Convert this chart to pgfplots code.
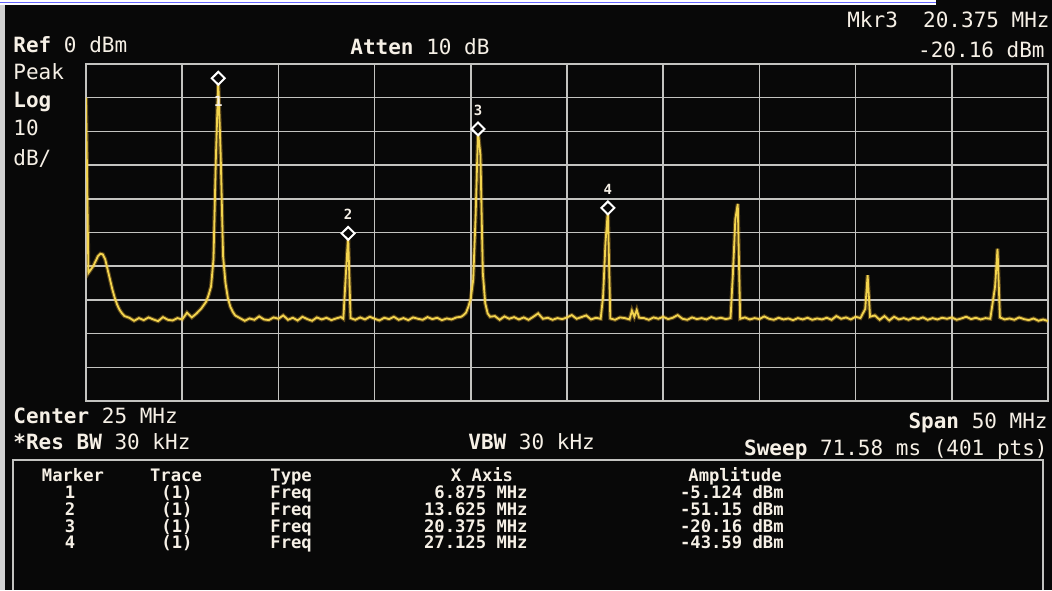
\documentclass[border=0pt]{standalone}
\usepackage{pgfplots}
\pgfplotsset{compat=1.18}
\usepackage{pgfplotstable}
\usepackage{fontspec}
\setmainfont{DejaVu Sans Mono}
\definecolor{scr}{RGB}{8,8,8}
\definecolor{gridc}{RGB}{195,195,192}
\definecolor{trace}{RGB}{242,212,78}
\definecolor{txt}{RGB}{246,240,230}
\newcommand\bigf{\fontsize{10.5}{12}\selectfont}
\newcommand\tabf{\fontsize{8.6}{10}\selectfont\bfseries}

\pgfplotstableread{
f a
0 -10
0.125 -62
0.25 -61
0.375 -60
0.5 -58.5
0.625 -57
0.75 -56.3
0.875 -56.5
1.0 -58
1.125 -61
1.25 -64
1.375 -67
1.5 -69.5
1.625 -71.5
1.75 -73
1.875 -74
2.0 -74.8
2.25 -75.3
2.5 -76.2
2.75 -75.4
3.0 -76.0
3.25 -75.2
3.5 -75.8
3.75 -76.3
4.0 -75.1
4.25 -75.9
4.5 -76.1
4.75 -75.4
5.0 -75.8
5.25 -73.8
5.5 -75.2
5.75 -74.0
6.0 -72.5
6.25 -70.5
6.375 -68.5
6.5 -66
6.625 -58
6.75 -28
6.875 -5.124
7.0 -27
7.125 -57
7.25 -65
7.375 -69.5
7.5 -72
7.625 -73.5
7.75 -74.6
8.0 -75.4
8.25 -76.2
8.5 -75.5
8.75 -75.9
9.0 -74.9
9.25 -75.8
9.5 -76.0
9.75 -75.2
10.0 -75.6
10.25 -74.6
10.5 -75.9
10.75 -75.3
11.0 -76.1
11.25 -75.0
11.5 -75.7
11.75 -76.2
12.0 -75.2
12.25 -75.8
12.5 -75.3
12.75 -76.0
13.0 -75.5
13.25 -75.1
13.375 -75.6
13.5 -63
13.625 -51.15
13.75 -75.4
14.0 -75.9
14.25 -75.2
14.5 -75.8
14.75 -75.0
15.0 -75.6
15.25 -76.1
15.5 -75.3
15.75 -75.7
16.0 -75.0
16.25 -75.9
16.5 -75.4
16.75 -76.0
17.0 -75.2
17.25 -75.6
17.5 -75.9
17.75 -75.1
18.0 -75.7
18.25 -75.3
18.5 -76.0
18.75 -75.5
19.0 -75.8
19.25 -75.2
19.5 -75.0
19.625 -74.5
19.75 -73.8
19.875 -72.0
20.0 -69.5
20.125 -64
20.25 -45
20.375 -20.16
20.5 -27
20.625 -62
20.75 -71
20.875 -74
21.0 -75.0
21.25 -74.8
21.5 -75.9
21.75 -74.9
22.0 -75.6
22.25 -75.1
22.5 -75.8
22.75 -75.2
23.0 -75.9
23.25 -75.0
23.5 -74.0
23.75 -75.6
24.0 -75.3
24.25 -75.9
24.5 -75.4
24.75 -75.7
25.0 -75.2
25.25 -74.5
25.5 -75.6
25.75 -75.1
26.0 -74.6
26.25 -75.8
26.5 -75.3
26.75 -75.6
26.875 -69
27.0 -53
27.125 -43.59
27.25 -75.5
27.5 -75.9
27.75 -75.2
28.0 -75.4
28.25 -75.8
28.375 -73.2
28.5 -75.0
28.625 -73.0
28.75 -75.3
29.0 -75.4
29.25 -75.9
29.5 -75.2
29.75 -75.6
30.0 -75.0
30.25 -75.7
30.5 -75.3
30.75 -74.5
31.0 -75.6
31.25 -75.9
31.5 -75.2
31.75 -75.7
32.0 -75.4
32.25 -75.8
32.5 -75.1
32.75 -75.6
33.0 -75.3
33.25 -75.7
33.5 -75.4
33.625 -62
33.75 -46
33.875 -41.5
34.0 -75.6
34.25 -75.2
34.5 -75.8
34.75 -75.4
35.0 -75.7
35.25 -74.9
35.5 -75.6
35.75 -75.9
36.0 -75.3
36.25 -75.8
36.5 -75.5
36.75 -76.0
37.0 -75.4
37.25 -75.8
37.5 -75.3
37.75 -75.9
38.0 -75.5
38.25 -75.8
38.5 -75.3
38.75 -75.9
39.0 -74.8
39.25 -75.6
39.5 -75.2
39.75 -75.8
40.0 -75.0
40.25 -75.4
40.5 -72.7
40.625 -62.7
40.75 -75.0
41.0 -74.6
41.25 -75.9
41.5 -74.8
41.75 -76.1
42.0 -75.0
42.25 -75.8
42.5 -75.4
42.75 -75.9
43.0 -75.3
43.25 -75.7
43.5 -75.2
43.75 -75.9
44.0 -75.4
44.25 -75.8
44.5 -75.3
44.75 -75.6
45.0 -75.2
45.25 -75.9
45.5 -75.5
45.75 -75.0
46.0 -75.7
46.25 -75.3
46.5 -75.8
46.75 -75.4
47.0 -75.6
47.25 -66
47.375 -54.8
47.5 -75.2
47.75 -75.8
48.0 -75.5
48.25 -75.9
48.5 -75.2
48.75 -75.7
49.0 -76.0
49.25 -75.5
49.5 -76.2
49.75 -75.8
50.0 -76.3
}\tracedata

\pgfplotstableread{
f a
6.875 -5.124
13.625 -51.15
20.375 -20.16
27.125 -43.59
}\markers

\begin{document}
\begin{tikzpicture}[x=1pt,y=1pt]
\useasboundingbox (0,0) rectangle (526,295);
\fill[scr] (0,0) rectangle (526,295);
\fill[gray!35] (0,0) rectangle (2.5,295);
\fill[white] (0,292.5) rectangle (468,295);
\draw[blue!60, line width=0.4pt] (0,293.6) -- (468,293.6);

\begin{axis}[
  at={(43pt,94.5pt)}, anchor=south west, scale only axis,
  width=481pt, height=168.5pt,
  xmin=0, xmax=50, ymin=-100, ymax=0,
  xtick={0,5,...,50}, ytick={-100,-90,...,0},
  xticklabels={}, yticklabels={},
  major tick length=0pt,
  grid=major,
  major grid style={gridc, line width=0.8pt},
  axis line style={gridc, line width=1pt},
  axis background/.style={fill=scr},
]
\addplot[trace!70!orange, line width=2pt, opacity=0.35] table[x=f,y=a]{\tracedata};
\addplot[trace, line width=0.9pt] table[x=f,y=a]{\tracedata};
\addplot[only marks, mark=diamond*, mark size=3.2pt,
  mark options={fill=scr, draw=white, line width=1pt, xscale=1.35, yshift=1.5pt}] table[x=f,y=a]{\markers};
\node[txt, font=\fontsize{7}{8}\selectfont\bfseries] at (axis cs:6.875,-5.124) [yshift=-10pt] {1};
\node[txt, font=\fontsize{7}{8}\selectfont\bfseries] at (axis cs:13.625,-51.15) [yshift=11pt] {2};
\node[txt, font=\fontsize{7}{8}\selectfont\bfseries] at (axis cs:20.375,-20.16) [yshift=11pt] {3};
\node[txt, font=\fontsize{7}{8}\selectfont\bfseries] at (axis cs:27.125,-43.59) [yshift=11pt] {4};
\end{axis}

% header texts
\node[txt, anchor=base west, inner sep=0pt, font=\bigf] at (6.5,268.5) {\textbf{Ref} 0 dBm};
\node[txt, anchor=base west, inner sep=0pt, font=\bigf] at (175,267.5) {\textbf{Atten} 10 dB};
\node[txt, anchor=base east, inner sep=0pt, font=\bigf] at (525,281) {Mkr3\ \ 20.375 MHz};
\node[txt, anchor=base east, inner sep=0pt, font=\bigf] at (522.5,266) {-20.16 dBm};
\node[txt, anchor=base west, inner sep=0pt, font=\bigf] at (6.5,255) {Peak};
\node[txt, anchor=base west, inner sep=0pt, font=\bigf] at (6.5,241) {\textbf{Log}};
\node[txt, anchor=base west, inner sep=0pt, font=\bigf] at (6.5,227) {10};
\node[txt, anchor=base west, inner sep=0pt, font=\bigf] at (6.5,212) {dB/};

% footer texts
\node[txt, anchor=base west, inner sep=0pt, font=\bigf] at (6.5,83.5) {\textbf{Center} 25 MHz};
\node[txt, anchor=base west, inner sep=0pt, font=\bigf] at (6.5,70.5) {\textbf{*Res BW} 30 kHz};
\node[txt, anchor=base west, inner sep=0pt, font=\bigf] at (234,70.5) {\textbf{VBW} 30 kHz};
\node[txt, anchor=base east, inner sep=0pt, font=\bigf] at (524,81) {\textbf{Span} 50 MHz};
\node[txt, anchor=base east, inner sep=0pt, font=\bigf] at (524,67.5) {\textbf{Sweep} 71.58 ms (401 pts)};

% marker table
\draw[gridc, line width=0.8pt] (6.5,0) -- (6.5,65) -- (521.5,65) -- (521.5,0);
\node[txt, anchor=base, inner sep=0pt, font=\tabf] at (36.5,54.25) {Marker};
\node[txt, anchor=base, inner sep=0pt, font=\tabf] at (88,54.25) {Trace};
\node[txt, anchor=base west, inner sep=0pt, font=\tabf] at (135,54.25) {Type};
\node[txt, anchor=base, inner sep=0pt, font=\tabf] at (241,54.25) {X Axis};
\node[txt, anchor=base, inner sep=0pt, font=\tabf] at (367.5,54.25) {Amplitude};
\foreach \m/\xv/\av/\yy in {1/6.875/-5.124/45.8, 2/13.625/-51.15/37.4, 3/20.375/-20.16/29, 4/27.125/-43.59/20.6}{
  \node[txt, anchor=base, inner sep=0pt, font=\tabf] at (35,\yy) {\m};
  \node[txt, anchor=base, inner sep=0pt, font=\tabf] at (88.5,\yy) {(1)};
  \node[txt, anchor=base west, inner sep=0pt, font=\tabf] at (135,\yy) {Freq};
  \node[txt, anchor=base east, inner sep=0pt, font=\tabf] at (264,\yy) {\xv\ MHz};
  \node[txt, anchor=base east, inner sep=0pt, font=\tabf] at (392,\yy) {\av\ dBm};
}
\end{tikzpicture}
\end{document}
